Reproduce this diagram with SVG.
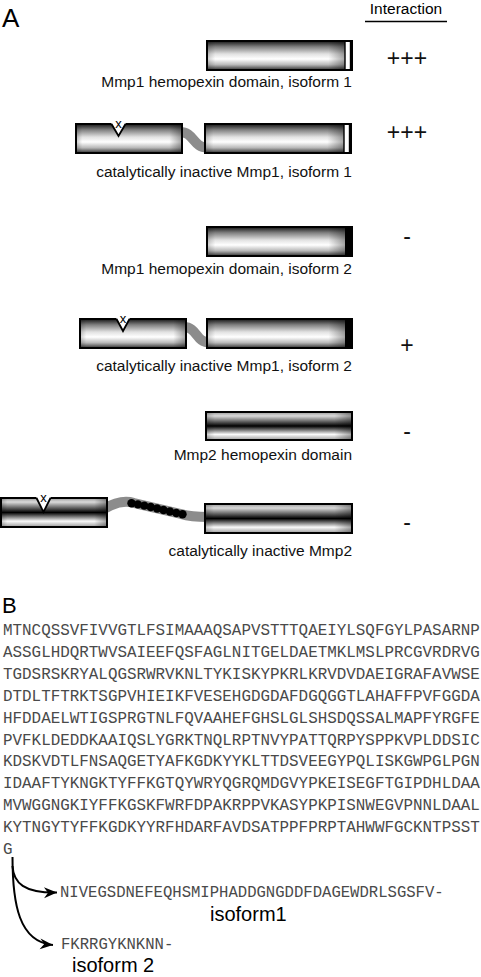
<svg xmlns="http://www.w3.org/2000/svg" width="481" height="977" viewBox="0 0 481 977">
<style>
  .lbl{font-family:"Liberation Sans",Arial,Helvetica,sans-serif;font-size:15.5px;fill:#111;text-anchor:end}
  .sym{font-family:"Liberation Sans",Arial,Helvetica,sans-serif;font-size:23px;fill:#111;text-anchor:middle}
  .big{font-family:"Liberation Sans",Arial,Helvetica,sans-serif;fill:#000}
  .seq{font-family:"Liberation Mono","Courier New",monospace;font-size:15.9px;fill:#4a4a4a}
  .iso{font-family:"Liberation Mono","Courier New",monospace;font-size:15.6px;fill:#4a4a4a}
  .m1{fill:url(#g1)}
  .m2{fill:url(#g2)}
  .sh{fill:url(#gh)}
  .bd{fill:none;stroke:#000;stroke-width:2}
  .link{fill:none;stroke:#8c8c8c;stroke-width:10}
  .vn{fill:#fff;stroke:none}
  .vl{fill:none;stroke:#000;stroke-width:1.8}
  .xm{font-family:"Liberation Sans",Arial,sans-serif;font-size:13px;fill:#000;text-anchor:middle}
  .arr{fill:none;stroke:#000;stroke-width:2}
</style>
<defs>
  <linearGradient id="g1" x1="0" y1="0" x2="0" y2="1">
    <stop offset="0" stop-color="#151515"/>
    <stop offset="0.2" stop-color="#808080"/>
    <stop offset="0.45" stop-color="#e2e2e2"/>
    <stop offset="0.62" stop-color="#ffffff"/>
    <stop offset="0.82" stop-color="#b8b8b8"/>
    <stop offset="1" stop-color="#303030"/>
  </linearGradient>
  <linearGradient id="g2" x1="0" y1="0" x2="0" y2="1">
    <stop offset="0" stop-color="#9a9a9a"/>
    <stop offset="0.14" stop-color="#dadada"/>
    <stop offset="0.5" stop-color="#000000"/>
    <stop offset="0.8" stop-color="#fafafa"/>
    <stop offset="1" stop-color="#9a9a9a"/>
  </linearGradient>
  <linearGradient id="gh" x1="0" y1="0" x2="1" y2="0">
    <stop offset="0" stop-color="#000" stop-opacity="0.2"/>
    <stop offset="0.06" stop-color="#000" stop-opacity="0"/>
    <stop offset="0.88" stop-color="#000" stop-opacity="0"/>
    <stop offset="1" stop-color="#000" stop-opacity="0.35"/>
  </linearGradient>
  <marker id="ah" markerUnits="userSpaceOnUse" viewBox="-14 -7 15 14" markerWidth="15" markerHeight="14" refX="0" refY="0" orient="auto">
    <path d="M0,0 L-13,-5.5 L-9,0 L-13,5.5 Z" fill="#000"/>
  </marker>
</defs>

<rect x="0" y="0" width="481" height="977" fill="#fff"/>

<g id="headerA">
  <text class="big" x="2" y="27" font-size="26">A</text>
  <text class="big" x="406" y="14" font-size="15.5" text-anchor="middle">Interaction</text>
  <line x1="365" y1="21.5" x2="447" y2="21.5" stroke="#000" stroke-width="1.6"/>
</g>

<g id="row1">
  <rect class="m1" x="207" y="41" width="145" height="29"/>
  <rect class="sh" x="207" y="41" width="138" height="29"/>
  <rect x="345" y="41" width="5.5" height="29" fill="#fff" stroke="#000" stroke-width="1.4"/>
  <rect class="bd" x="207" y="41" width="145" height="29"/>
  <text class="lbl" x="352" y="87">Mmp1 hemopexin domain, isoform 1</text>
  <text class="sym" x="407" y="65.5">+++</text>
</g>

<g id="row2">
  <path class="link" d="M180,132 C194,132 193,147.5 207,147.5"/>
  <rect class="m1" x="76" y="124" width="106" height="29"/>
  <rect class="sh" x="76" y="124" width="106" height="29"/>
  <rect class="bd" x="76" y="124" width="106" height="29"/>
  <path class="vn" d="M111,122.5 L118.5,136 L126,122.5 Z"/>
  <path class="vl" d="M111.5,124 L118.5,136 L125.5,124"/>
  <text class="xm" x="118.5" y="127.5">x</text>
  <rect class="m1" x="205" y="124" width="146" height="29"/>
  <rect class="sh" x="205" y="124" width="139" height="29"/>
  <rect x="344" y="124" width="5.5" height="29" fill="#fff" stroke="#000" stroke-width="1.4"/>
  <rect class="bd" x="205" y="124" width="146" height="29"/>
  <text class="lbl" x="352" y="177">catalytically inactive Mmp1, isoform 1</text>
  <text class="sym" x="407" y="139.5">+++</text>
</g>

<g id="row3">
  <rect class="m1" x="207" y="227" width="145" height="29"/>
  <rect class="sh" x="207" y="227" width="138" height="29"/>
  <rect x="345" y="227" width="7" height="29" fill="#000"/>
  <rect class="bd" x="207" y="227" width="145" height="29"/>
  <text class="lbl" x="352" y="274">Mmp1 hemopexin domain, isoform 2</text>
  <text class="sym" x="407" y="244">-</text>
</g>

<g id="row4">
  <path class="link" d="M184,327 C197,327 196,342.5 209,342.5"/>
  <rect class="m1" x="80" y="319" width="106" height="29"/>
  <rect class="sh" x="80" y="319" width="106" height="29"/>
  <rect class="bd" x="80" y="319" width="106" height="29"/>
  <path class="vn" d="M116,317.5 L123,331 L130,317.5 Z"/>
  <path class="vl" d="M116.5,319 L123,331 L129.5,319"/>
  <text class="xm" x="123" y="322.5">x</text>
  <rect class="m1" x="207" y="319" width="145" height="29"/>
  <rect class="sh" x="207" y="319" width="138" height="29"/>
  <rect x="345" y="319" width="7" height="29" fill="#000"/>
  <rect class="bd" x="207" y="319" width="145" height="29"/>
  <text class="lbl" x="352" y="371">catalytically inactive Mmp1, isoform 2</text>
  <text class="sym" x="407" y="352.5">+</text>
</g>

<g id="row5">
  <rect class="m2" x="206" y="412" width="146" height="28"/>
  <rect class="sh" x="206" y="412" width="146" height="28"/>
  <rect class="bd" x="206" y="412" width="146" height="28"/>
  <text class="lbl" x="352" y="460">Mmp2 hemopexin domain</text>
  <text class="sym" x="407" y="439">-</text>
</g>

<g id="row6">
  <path class="link" d="M104,509 C114,503 124,500 134,503 L181,514 C191,517 198,517 208,517"/>
  <g fill="#000">
    <circle cx="131.5" cy="503.3" r="4.2"/>
    <circle cx="137.9" cy="504.4" r="4.2"/>
    <circle cx="144.3" cy="505.6" r="4.2"/>
    <circle cx="150.7" cy="507" r="4.2"/>
    <circle cx="157.1" cy="508.5" r="4.2"/>
    <circle cx="163.5" cy="510" r="4.2"/>
    <circle cx="169.9" cy="511.5" r="4.2"/>
    <circle cx="176.3" cy="513" r="4.2"/>
    <circle cx="182.5" cy="514.3" r="4.2"/>
  </g>
  <rect class="m2" x="1" y="498" width="106" height="29"/>
  <rect class="sh" x="1" y="498" width="106" height="29"/>
  <rect class="bd" x="1" y="498" width="106" height="29"/>
  <path class="vn" d="M36,496.5 L43.5,512 L51,496.5 Z"/>
  <path class="vl" d="M36.5,498 L43.5,512 L50.5,498"/>
  <text class="xm" x="43.5" y="501.5">x</text>
  <rect class="m2" x="205" y="504" width="147" height="29"/>
  <rect class="sh" x="205" y="504" width="147" height="29"/>
  <rect class="bd" x="205" y="504" width="147" height="29"/>
  <text class="lbl" x="352" y="556">catalytically inactive Mmp2</text>
  <text class="sym" x="407" y="530">-</text>
</g>

<g id="panelB">
  <text class="big" x="2" y="613" font-size="22">B</text>
  <g id="sequence" class="seq">
    <text x="3" y="635">MTNCQSSVFIVVGTLFSIMAAAQSAPVSTTTQAEIYLSQFGYLPASARNP</text>
    <text x="3" y="656.9">ASSGLHDQRTWVSAIEEFQSFAGLNITGELDAETMKLMSLPRCGVRDRVG</text>
    <text x="3" y="678.8">TGDSRSKRYALQGSRWRVKNLTYKISKYPKRLKRVDVDAEIGRAFAVWSE</text>
    <text x="3" y="700.7">DTDLTFTRKTSGPVHIEIKFVESEHGDGDAFDGQGGTLAHAFFPVFGGDA</text>
    <text x="3" y="722.6">HFDDAELWTIGSPRGTNLFQVAAHEFGHSLGLSHSDQSSALMAPFYRGFE</text>
    <text x="3" y="744.5">PVFKLDEDDKAAIQSLYGRKTNQLRPTNVYPATTQRPYSPPKVPLDDSIC</text>
    <text x="3" y="766.4">KDSKVDTLFNSAQGETYAFKGDKYYKLTTDSVEEGYPQLISKGWPGLPGN</text>
    <text x="3" y="788.3">IDAAFTYKNGKTYFFKGTQYWRYQGRQMDGVYPKEISEGFTGIPDHLDAA</text>
    <text x="3" y="810.2">MVWGGNGKIYFFKGSKFWRFDPAKRPPVKASYPKPISNWEGVPNNLDAAL</text>
    <text x="3" y="832.1">KYTNGYTYFFKGDKYYRFHDARFAVDSATPPFPRPTAHWWFGCKNTPSST</text>
    <text x="3" y="854">G</text>
  </g>
  <g id="isoform1">
    <text class="iso" x="60" y="896.5">NIVEGSDNEFEQHSMIPHADDGNGDDFDAGEWDRLSGSFV-</text>
    <text class="big" x="210" y="921" font-size="20">isoform1</text>
  </g>
  <g id="isoform2">
    <text class="iso" x="61" y="949">FKRRGYKNKNN-</text>
    <text class="big" x="72" y="972" font-size="20">isoform 2</text>
  </g>
</g>

<g id="connectors">
  <path class="arr" d="M12.5,866 C13.5,883 24,893 57,892.5" marker-end="url(#ah)"/>
  <path class="arr" d="M12.5,857 C12.5,904 19,942 53,945" marker-end="url(#ah)"/>
</g>
</svg>
